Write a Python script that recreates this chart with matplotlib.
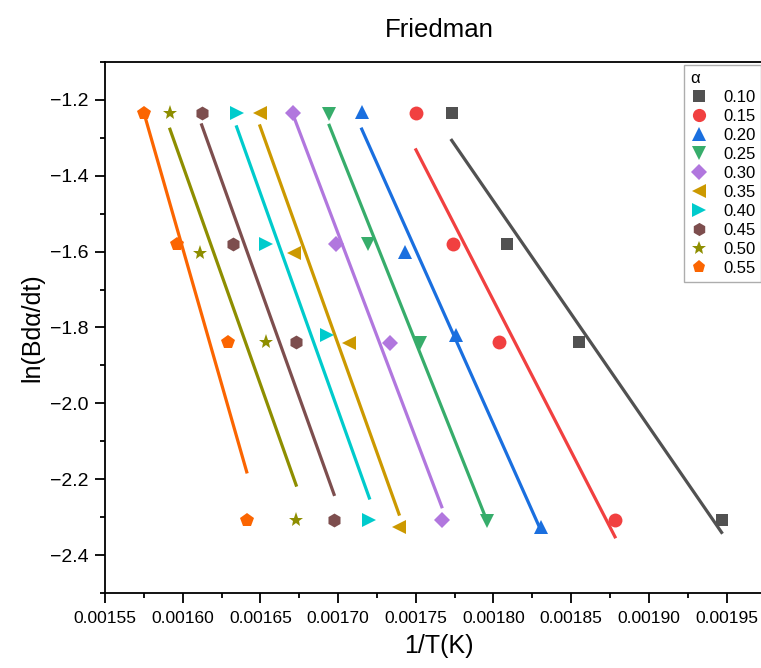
import numpy as np
import matplotlib
matplotlib.use("Agg")
import matplotlib.pyplot as plt
from matplotlib.ticker import MultipleLocator

plt.rcParams["font.family"] = ["Liberation Sans", "DejaVu Sans"]

# conversion levels (alpha) and their 1/T, ln(B da/dt) points
alpha_labels = ["0.10", "0.15", "0.20", "0.25", "0.30", "0.35", "0.40", "0.45", "0.50", "0.55"]

inv_T = [
    [0.0017731, 0.0018089, 0.0018552, 0.0019468],
    [0.0017501, 0.0017737, 0.0018037, 0.0018782],
    [0.0017152, 0.0017431, 0.0017759, 0.0018306],
    [0.0016943, 0.0017194, 0.0017527, 0.0017956],
    [0.0016712, 0.0016986, 0.0017334, 0.0017667],
    [0.0016497, 0.0016716, 0.0017072, 0.0017392],
    [0.0016347, 0.0016534, 0.0016927, 0.0017201],
    [0.0016122, 0.0016322, 0.0016730, 0.0016974],
    [0.0015918, 0.0016111, 0.0016536, 0.0016730],
    [0.0015751, 0.0015961, 0.0016293, 0.0016412],
]

ln_rate = [
    [-1.235, -1.581, -1.839, -2.307],
    [-1.235, -1.581, -1.839, -2.307],
    [-1.231, -1.602, -1.821, -2.326],
    [-1.236, -1.581, -1.841, -2.309],
    [-1.235, -1.581, -1.841, -2.307],
    [-1.235, -1.604, -1.841, -2.326],
    [-1.235, -1.579, -1.821, -2.307],
    [-1.235, -1.581, -1.839, -2.307],
    [-1.235, -1.604, -1.839, -2.307],
    [-1.235, -1.581, -1.839, -2.307],
]

colors = ["#515151", "#F14040", "#1A6FDF", "#37AD6B", "#B177DE",
          "#CC9900", "#00CBCC", "#7D4E4E", "#8E8E00", "#FB6501"]
markers = ["s", "o", "^", "v", "D", "<", ">", "h", "*", "p"]
msizes = [9, 10, 10, 10, 8.5, 10, 10, 10, 11, 10]

fig = plt.figure(figsize=(7.61, 6.68), dpi=100)
ax = fig.add_axes([0.138, 0.1123, 0.878, 0.795])

for lab, xs, ys, c, m, ms in zip(alpha_labels, inv_T, ln_rate, colors, markers, msizes):
    xs = np.array(xs)
    ys = np.array(ys)
    ax.plot(xs, ys, linestyle="none", marker=m, ms=ms, color=c,
            markeredgewidth=0, label=lab, zorder=3)
    # linear fit over the data range
    k, b = np.polyfit(xs, ys, 1)
    xf = np.array([xs.min(), xs.max()])
    ax.plot(xf, k * xf + b, color=c, lw=2.3, zorder=2)

ax.set_xlim(0.00155, 0.00198)
ax.set_ylim(-2.5, -1.1)
ax.xaxis.set_major_locator(MultipleLocator(0.00005))
ax.xaxis.set_minor_locator(MultipleLocator(0.000025))
ax.yaxis.set_major_locator(MultipleLocator(0.2))
ax.yaxis.set_minor_locator(MultipleLocator(0.1))
ax.xaxis.set_major_formatter(plt.FuncFormatter(lambda v, p: f"{v:.5f}"))
ax.yaxis.set_major_formatter(plt.FuncFormatter(lambda v, p: f"{v:.1f}".replace("-", "\u2212")))

ax.tick_params(which="major", direction="out", length=7, width=1.3, pad=5)
ax.tick_params(which="minor", direction="out", length=3.5, width=1.3)
ax.tick_params(top=False, right=False, which="both")
ax.tick_params(axis="y", labelsize=14)
ax.tick_params(axis="x", labelsize=12.5, pad=6)
for sp in ax.spines.values():
    sp.set_linewidth(1.3)

ax.set_xlabel("1/T(K)", fontsize=18, labelpad=6)
ax.set_ylabel("ln(Bd\u03b1/dt)", fontsize=18, labelpad=4)
ax.set_title("Friedman", fontsize=18.5, pad=18)

leg = ax.legend(title="\u03b1", loc="upper left",
                bbox_to_anchor=(684 / 761, 1 - 65 / 668),
                bbox_transform=fig.transFigure, borderaxespad=0,
                fontsize=12, title_fontsize=12, labelspacing=0.24,
                handlelength=1.1, handletextpad=0.9, borderpad=0.35,
                frameon=True, fancybox=False, edgecolor="#999999",
                markerscale=0.95)
leg._legend_box.align = "left"
leg.get_frame().set_linewidth(1.0)

fig.savefig("out.png", dpi=100)
